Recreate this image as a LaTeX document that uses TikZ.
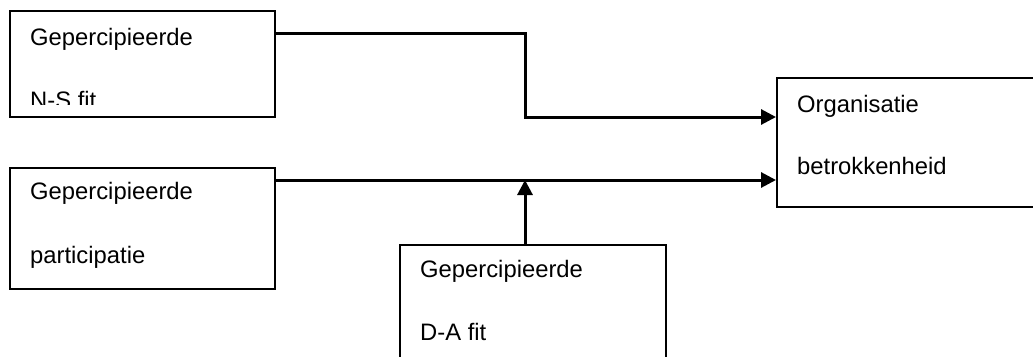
\documentclass[tikz,border=0pt]{standalone}
\usepackage{fontspec}
\setmainfont{Liberation Sans}
\usetikzlibrary{arrows.meta}
\tikzset{
  box/.style={draw=black, line width=2pt, rectangle, inner sep=0pt, anchor=north west},
  lbl/.style={anchor=base west, inner sep=0pt, font=\fontsize{23.8pt}{28pt}\selectfont},
  conn/.style={draw=black, line width=3pt, -{Triangle[length=15pt,width=15pt]}},
}
\begin{document}
\begin{tikzpicture}[x=1pt,y=-1pt]
\useasboundingbox (0,0) rectangle (1033,356);
\clip (0,0) rectangle (1033,356);
% boxes
\node[box, minimum width=265pt, minimum height=106pt] (n1) at (9,10) {};
\node[box, minimum width=265pt, minimum height=121pt] (n2) at (9,167) {};
\node[box, minimum width=266pt, minimum height=140pt] (n3) at (399,244) {};
\node[box, minimum width=290pt, minimum height=129pt] (n4) at (776,77) {};
% texts
\node[lbl] (t1a) at (30,45) {Gepercipieerde};
\begin{scope}
\clip (0,0) rectangle (1033,104);
\node[lbl] (t1b) at (30,108) {N-S fit};
\end{scope}
\node[lbl] (t2a) at (30,199) {Gepercipieerde};
\node[lbl] (t2b) at (30,263) {participatie};
\node[lbl] (t3a) at (420,277) {Gepercipieerde};
\node[lbl] (t3b) at (420,340) {D-A fit};
\node[lbl] (t4a) at (797,112) {Organisatie};
\node[lbl] (t4b) at (797,174) {betrokkenheid};
% connectors
\coordinate (k1) at (525,117);
\coordinate (k2) at (525,180);
\draw[conn] ([yshift=-23pt]n1.north east) -| (k1) -- (n4.west |- k1);
\draw[conn] ([yshift=-13pt]n2.north east) -- (n4.west |- k2);
\draw[conn] (n3.north -| k2) -- (k2);
\end{tikzpicture}
\end{document}
